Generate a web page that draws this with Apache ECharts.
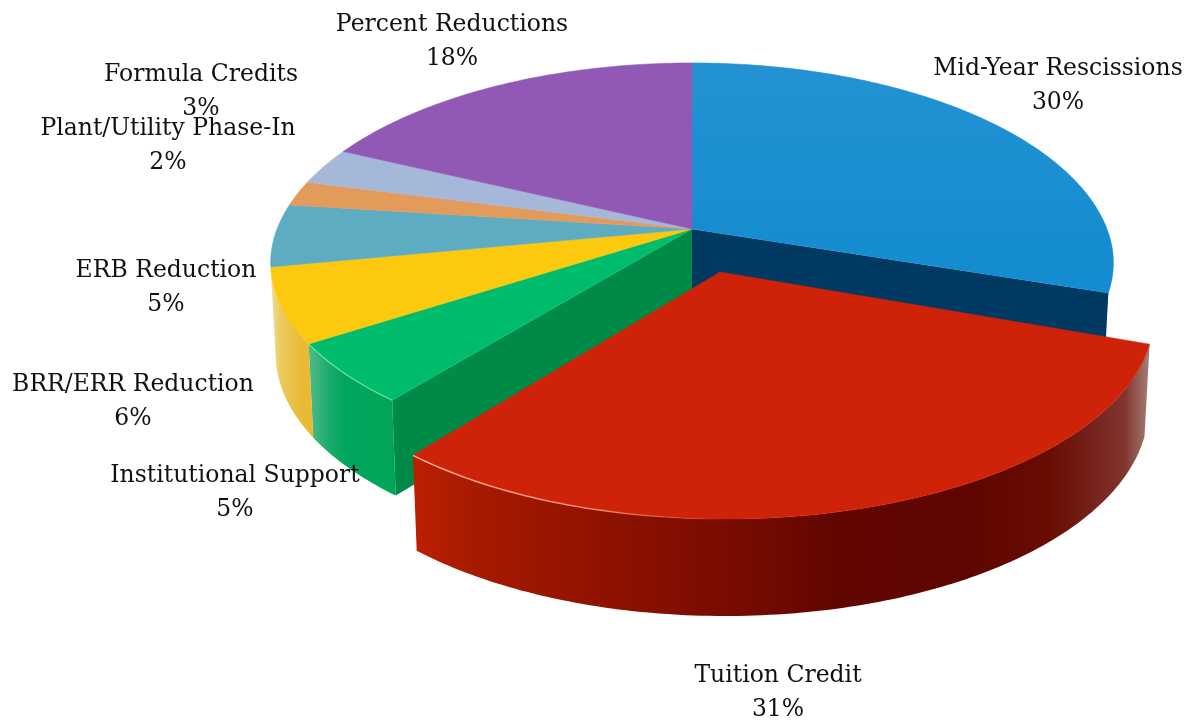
<!DOCTYPE html>
<html><head><meta charset="utf-8">
<style>html,body{margin:0;padding:0;background:#fff}#c{width:1190px;height:721px}</style>
<script src="https://cdn.jsdelivr.net/npm/echarts@6/dist/echarts.min.js"></script>
</head><body><div id="c"></div>
<script>
// Data (clockwise from 12 o'clock)
const categories = ['Mid-Year Rescissions','Tuition Credit','Institutional Support','BRR/ERR Reduction','ERB Reduction','Plant/Utility Phase-In','Formula Credits','Percent Reductions'];
const shares = [30, 31, 5, 6, 5, 2, 3, 18];
const explodedSlice = 'Tuition Credit';

// Styling
const topColors = ['#1a8fd1','#ce2308','#00bd6c','#fdc90f','#5eacc2','#e29b5b','#a5b8da','#9159b5'];
const labelCentres = [[1058,86],[778,693],[235,493],[133,402],[166,288],[168,146],[201,92],[452,42]];
const CX=692, CY=229, A=415, B=196, PERSP=0.18, SX=1.016, FRONT_INSET=0.04;
const APEX_OFFSET=[28,43], RIM_OFFSET=[33,51];

// Perspective projection of a unit disc (u right, v away from the viewer), h=0 top, h=1 bottom
function project(u,v,h,inset){
  const w=1+PERSP*v, depth=90-7*v, k=(inset&&v<0)?1-inset*v*v:1;
  return [CX+A*u/w*k*(1-0.012*h), CY-B*v/w*k+depth*h];
}
const total=shares.reduce((a,b)=>a+b,0);
function startAngle(i){return shares.slice(0,i).reduce((a,b)=>a+b,0)/total*2*Math.PI;}
function linear(x0,x1,stops){
  return {type:'linear',global:true,x:x0,y:0,x2:x1,y2:0,
    colorStops:stops.map(s=>({offset:(s[0]-x0)/(x1-x0),color:s[1]}))};
}
const sideFills={
  'Tuition Credit':linear(410,1150,[[410,'#bd2000'],[470,'#a81a00'],[600,'#8f1200'],[760,'#730a00'],[830,'#620600'],[960,'#5e0500'],[1050,'#680d02'],[1090,'#74201a'],[1125,'#80362e'],[1150,'#a88078']]),
  'Institutional Support':linear(312,400,[[312,'#48b884'],[328,'#1dac6e'],[345,'#00a65b'],[400,'#00a55a']]),
  'BRR/ERR Reduction':linear(272,314,[[272,'#f0dc95'],[281,'#eac95e'],[298,'#e9bd3a'],[314,'#e8b82c']]),
  'Mid-Year Rescissions':'#c4d4de'
};
const wallFills={'Mid-Year Rescissions':'#003a63','Institutional Support':'#008a48'};
const faceFills={
  'Mid-Year Rescissions':{type:'linear',global:true,x:0,y:63,x2:0,y2:300,colorStops:[{offset:0,color:'#2392d2'},{offset:1,color:'#128bd0'}]}
};

function renderItem(params){
  const i=params.dataIndex, name=categories[i];
  const a0=startAngle(i), a1=startAngle(i+1);
  const ex=name===explodedSlice;
  const place=(a,h)=>{
    const p=project(Math.sin(a),Math.cos(a),h,ex?0:FRONT_INSET);
    return ex?[CX+(p[0]-CX)*SX+RIM_OFFSET[0],p[1]+RIM_OFFSET[1]]:p;
  };
  const n=Math.max(4,Math.ceil((a1-a0)/0.015)), top=[], bottom=[];
  for(let k=0;k<=n;k++){const a=a0+(a1-a0)*k/n;top.push(place(a,0));bottom.push(place(a,1));}
  const apexT=ex?[CX+APEX_OFFSET[0],CY+APEX_OFFSET[1]]:[CX,CY];
  const apexB=[apexT[0],apexT[1]+90];
  const kids=[], base=ex?100:0;
  // outer wall
  if(sideFills[name]){
    kids.push({type:'polygon',z2:base+1,shape:{points:top.concat(bottom.slice().reverse())},
      style:{fill:sideFills[name]}});
  }
  // radial walls exposed by the exploded slice
  if(name==='Mid-Year Rescissions'){
    kids.push({type:'polygon',z2:base+2,shape:{points:[apexT,top[top.length-1],bottom[bottom.length-1],apexB]},style:{fill:wallFills[name]}});
  }
  if(name==='Institutional Support'){
    kids.push({type:'polygon',z2:base+2,shape:{points:[apexT,top[0],bottom[0],apexB]},style:{fill:wallFills[name]}});
  }
  // top face
  const face=faceFills[name]||topColors[i];
  kids.push({type:'polygon',z2:base+3,shape:{points:[apexT].concat(top)},
    style:{fill:face,stroke:face,lineWidth:0.5}});
  // rim highlight
  if(ex){
    const rim=top.filter(p=>p[0]<720);
    kids.push({type:'polyline',z2:base+4,shape:{points:rim},silent:true,
      style:{fill:'none',lineWidth:1.5,stroke:linear(410,720,[[410,'rgba(255,190,170,0.9)'],[600,'rgba(255,170,150,0.7)'],[720,'rgba(255,120,90,0)']])}});
  }
  if(name==='Institutional Support'){
    kids.push({type:'polyline',z2:base+4,shape:{points:top},silent:true,style:{fill:'none',lineWidth:1.2,stroke:'rgba(120,240,170,0.8)'}});
  }
  // label
  const c=labelCentres[i];
  kids.push({type:'text',z2:500,x:c[0],y:c[1],silent:true,style:{
    text:name+'\n'+Math.round(shares[i])+'%',
    fill:'#111',font:'23.5px "DejaVu Serif", serif',align:'center',verticalAlign:'middle',lineHeight:34}});
  return {type:'group',children:kids};
}
const chart=echarts.init(document.getElementById('c'),null,{renderer:'canvas'});
chart.setOption({
  animation:false,
  backgroundColor:'#fff',
  series:[{type:'custom',coordinateSystem:'none',renderItem:renderItem,
    data:categories.map((n,i)=>({name:n,value:shares[i]}))}]
});
</script></body></html>
